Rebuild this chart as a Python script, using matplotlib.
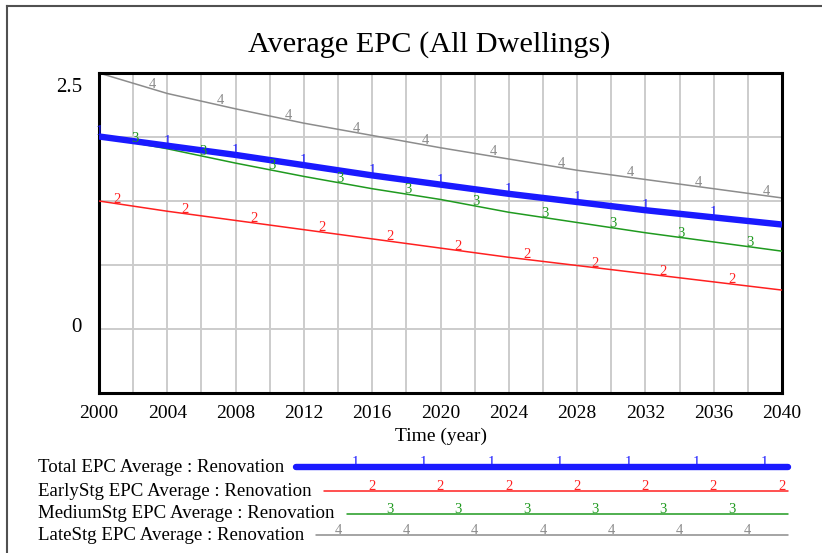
import numpy as np
import matplotlib
matplotlib.use('Agg')
import matplotlib.pyplot as plt
from matplotlib.lines import Line2D

############################################################
### DATA
############################################################

years = [2000, 2004, 2008, 2012, 2016, 2020, 2024, 2028, 2032, 2036, 2040]
total_epc = [1.88, 1.79, 1.70, 1.60, 1.50, 1.41, 1.32, 1.24, 1.16, 1.09, 1.02]
early_epc = [1.25, 1.15, 1.06, 0.97, 0.88, 0.79, 0.70, 0.62, 0.54, 0.46, 0.38]
medium_epc = [1.88, 1.76, 1.62, 1.49, 1.37, 1.265, 1.14, 1.04, 0.94, 0.85, 0.76]
late_epc = [2.50, 2.30, 2.15, 2.01, 1.89, 1.77, 1.66, 1.55, 1.46, 1.37, 1.28]

series_labels = ['Total EPC Average : Renovation',
                 'EarlyStg EPC Average : Renovation',
                 'MediumStg EPC Average : Renovation',
                 'LateStg EPC Average : Renovation']
series_numbers = ['1', '2', '3', '4']

x_ticks = [2000, 2004, 2008, 2012, 2016, 2020, 2024, 2028, 2032, 2036, 2040]
y_labels = [0, 2.5]

title = 'Average EPC (All Dwellings)'
x_label = 'Time (year)'

############################################################
### STYLE
############################################################

W, H = 822, 553
FONT = 'Liberation Serif'
colors = ['#1a1aff', '#ff2020', '#1f9a1f', '#8c8c8c']
widths = [4.6, 1.1, 1.1, 1.1]
# marker offsets in years along each curve (Vensim style)
mark_offset = [0.0, 1.05, 2.1, 3.1]
# legend marker start (pixels)
leg_mark_start = [355, 372, 390, 338]
leg_rows = [467, 491, 514, 535]


def fx(px):
    return px / W


def fy(py):
    return 1 - py / H


fig = plt.figure(figsize=(W / 100, H / 100), dpi=100)
fig.patch.set_facecolor('white')

# outer frame (left and top only, rest is cut off)
fig.add_artist(Line2D([fx(7), fx(7)], [fy(6), 0], color='#505050', lw=1.5))
fig.add_artist(Line2D([fx(7), 1], [fy(6), fy(6)], color='#505050', lw=1.5))

ax = fig.add_axes([fx(99), fy(393), fx(782) - fx(99), fy(73) - fy(393)])
ax.set_xlim(2000, 2040)
ax.set_ylim(-0.625, 2.5)

ax.set_xticks(x_ticks)
ax.set_xticklabels([str(t) for t in x_ticks], fontfamily=FONT, fontsize=14)
ax.set_xticks(np.arange(2000, 2041, 2), minor=True)
ax.set_yticks([])
ax.set_yticks([0, 0.625, 1.25, 1.875], minor=True)
ax.tick_params(which='both', length=0)
ax.tick_params(axis='x', pad=9)
ax.grid(which='both', color='#cccccc', lw=1.4)
ax.set_axisbelow(True)
for sp in ax.spines.values():
    sp.set_linewidth(2.2)
    sp.set_color('black')

# y labels, Vensim puts the top one a little inside the axis
for v in y_labels:
    ypix = 87 if v == max(y_labels) else 328
    fig.text(fx(82), fy(ypix), str(v), fontfamily=FONT, fontsize=15,
             ha='right', va='center')

ax.set_xlabel(x_label, fontfamily=FONT, fontsize=14, labelpad=4)
fig.text(fx(429), fy(45), title, fontfamily=FONT, fontsize=21.8,
         ha='center', va='center')

all_series = [total_epc, early_epc, medium_epc, late_epc]
zorders = [5, 3, 4, 2]
for vals, col, lw, num, off, zo in zip(all_series, colors, widths, series_numbers, mark_offset, zorders):
    ax.plot(years, vals, color=col, lw=lw, zorder=zo, solid_capstyle='butt')
    for xm in np.arange(2000 + off, 2040, 4):
        ym = np.interp(xm, years, vals)
        ax.annotate(num, (xm, ym), xytext=(0, -2), textcoords='offset pixels',
                    ha='center', va='bottom', color=col, fontfamily=FONT,
                    fontsize=10.5, zorder=6)

# legend drawn by hand, Vensim style
fig.canvas.draw()
renderer = fig.canvas.get_renderer()
for lab, col, lw, num, row, ms in zip(series_labels, colors, widths, series_numbers, leg_rows, leg_mark_start):
    t = fig.text(fx(38), fy(row), lab, fontfamily=FONT, fontsize=13.6,
                 ha='left', va='center')
    bb = t.get_window_extent(renderer)
    x0 = bb.x1 + 12
    x1 = 788
    fig.add_artist(Line2D([fx(x0), fx(x1)], [fy(row), fy(row)], color=col,
                          lw=lw, solid_capstyle='round'))
    xm = ms
    while xm <= x1:
        fig.text(fx(xm), fy(row + 2), num, color=col, fontfamily=FONT,
                 fontsize=10.5, ha='center', va='bottom')
        xm += 68.3

fig.savefig('out.png', dpi=100)
